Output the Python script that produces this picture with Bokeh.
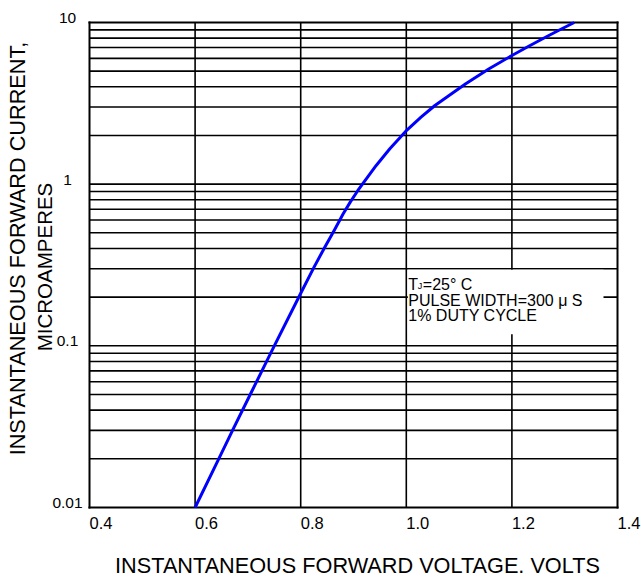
from bokeh.plotting import figure
from bokeh.models import Label, BoxAnnotation
from bokeh.embed import file_html
from bokeh.resources import INLINE

# ---- data ----
voltage = [0.600, 0.648, 0.673, 0.707, 0.750, 0.7996, 0.8253, 0.8456, 0.8634, 0.8805,
           0.8938, 0.9083, 0.9173, 0.9430, 0.9688, 0.9991, 1.0279, 1.0542, 1.0857,
           1.1126, 1.1568, 1.2001, 1.2309, 1.2663, 1.2918, 1.3181]
current = [0.010, 0.021, 0.031, 0.052, 0.100, 0.210, 0.3065, 0.4075, 0.517, 0.656,
           0.774, 0.914, 1.005, 1.305, 1.655, 2.127, 2.596, 3.066, 3.622,
           4.176, 5.17, 6.25, 7.10, 8.19, 9.05, 10.0]

x_ticks = [0.4, 0.6, 0.8, 1.0, 1.2, 1.4]
x_tick_labels = ["0.4", "0.6", "0.8", "1.0", "1.2", "1.4"]
y_ticks = [0.01, 0.1, 1, 10]
y_tick_labels = ["0.01", "0.1", "1", "10"]
x_min, x_max = 0.4, 1.4
y_min, y_max = 0.01, 10
x_grid = [0.6, 0.8, 1.0, 1.2]
y_grid = [m * 10.0 ** k for k in (-2, -1, 0) for m in range(2, 10)] + [0.1, 1.0]

x_title = "INSTANTANEOUS FORWARD VOLTAGE. VOLTS"
y_title_1 = "INSTANTANEOUS FORWARD CURRENT,"
y_title_2 = "MICROAMPERES"
note_lines = ["PULSE WIDTH=300 \u03bc S", "1% DUTY CYCLE"]

# frame spans the whole canvas; the chart box (0.4..1.4, 0.01..10) is drawn inside it
p = figure(width=641, height=578, x_range=(0.23144, 1.44545), y_range=(0.003637, 13.678),
           y_axis_type="log", x_axis_location=None, y_axis_location=None,
           toolbar_location=None, output_backend="svg",
           min_border_left=0, min_border_right=0, min_border_top=0, min_border_bottom=0)
p.outline_line_color = None
p.background_fill_color = "white"
p.border_fill_color = "white"
p.grid.visible = False

# grid lines
p.segment(x0=x_grid, y0=[y_min] * len(x_grid), x1=x_grid, y1=[y_max] * len(x_grid),
          line_color="black", line_width=1.6)
p.segment(x0=[x_min] * len(y_grid), y0=y_grid, x1=[x_max] * len(y_grid), y1=y_grid,
          line_color="black", line_width=1.6)
# chart border
p.segment(x0=[x_min, x_max, x_min, x_min], y0=[y_min, y_min, y_min, y_max],
          x1=[x_min, x_max, x_max, x_max], y1=[y_max, y_max, y_min, y_max],
          line_color="black", line_width=2, line_cap="square")

p.line(voltage, current, line_color="#0000FF", line_width=3, line_join="round")

# white note box
p.add_layout(BoxAnnotation(left=1.003, right=1.3735, top=0.295, bottom=0.118,
                           fill_color="white", fill_alpha=1.0, line_alpha=0))

# tick labels
for v, t in zip(x_ticks, x_tick_labels):
    p.add_layout(Label(x=v, y=y_min, x_offset=0, y_offset=-16, text=t,
                       text_font="Liberation Sans", text_font_size="16.5px",
                       text_align="left", text_baseline="middle",
                       text_color="black"))
for v, t in zip(y_ticks, y_tick_labels):
    p.add_layout(Label(x=x_min, y=v, x_offset=-22, y_offset=4.5, text=t,
                       text_font="Liberation Sans", text_font_size="15.5px",
                       text_align="center", text_baseline="middle",
                       text_color="black"))

# axis titles
p.add_layout(Label(x=x_min, y=y_min, x_offset=268, y_offset=-58, text=x_title,
                   text_font="Liberation Sans", text_font_size="21.7px",
                   text_align="center", text_baseline="middle", text_color="black"))
p.add_layout(Label(x=x_min, y=y_max, x_offset=-72, y_offset=-226, angle=1.5707963,
                   text=y_title_1, text_font="Liberation Sans", text_font_size="21.7px",
                   text_align="center", text_baseline="middle", text_color="black"))
p.add_layout(Label(x=x_min, y=y_max, x_offset=-45, y_offset=-244.5, angle=1.5707963,
                   text=y_title_2, text_font="Liberation Sans", text_font_size="20.5px",
                   text_align="center", text_baseline="middle", text_color="black"))

# note text
p.add_layout(Label(x=1.0, y=y_max, x_offset=2, y_offset=-262, text="T",
                   text_font="Liberation Sans", text_font_size="16px",
                   text_baseline="middle", text_color="black"))
p.add_layout(Label(x=1.0, y=y_max, x_offset=11.5, y_offset=-264, text="J",
                   text_font="Liberation Sans", text_font_size="9px",
                   text_baseline="middle", text_color="black"))
p.add_layout(Label(x=1.0, y=y_max, x_offset=16.5, y_offset=-262, text="=25\u00b0 C",
                   text_font="Liberation Sans", text_font_size="16px",
                   text_baseline="middle", text_color="black"))
for i, t in enumerate(note_lines):
    p.add_layout(Label(x=1.0, y=y_max, x_offset=2, y_offset=-278 - 15.5 * i, text=t,
                       text_font="Liberation Sans", text_font_size="16px",
                       text_baseline="middle", text_color="black"))

open("out.html", "w").write(file_html(p, INLINE))
